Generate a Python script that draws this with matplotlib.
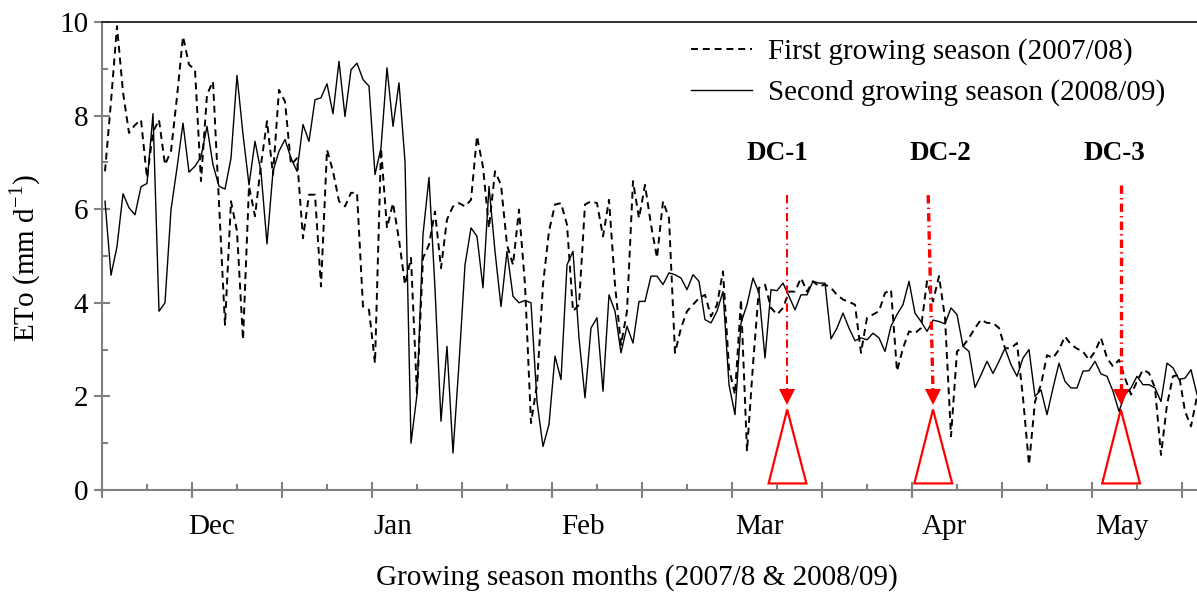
import numpy as np
import matplotlib
matplotlib.use("Agg")
import matplotlib.pyplot as plt
from matplotlib.patches import Polygon

# --- Data (daily ETo, mm/d) ---
eto_first = [
    6.81, 8.3, 9.91, 8.5, 7.63, 7.8, 7.91, 6.67, 7.65, 7.91, 6.95, 7.24, 8.4, 9.69, 9.09, 8.98,
    6.6, 8.45, 8.73, 6.13, 3.53, 6.17, 5.53, 3.21, 6.49, 5.85, 6.95, 7.88, 6.74, 8.55, 8.3,
    6.95, 7.09, 5.38, 6.31, 6.31, 4.35, 7.27, 6.81, 6.17, 6.06, 6.35, 6.35, 3.92, 3.85, 2.71,
    7.3, 5.6, 6.13, 5.35, 4.39, 4.96, 2.04, 4.96, 5.24, 5.95, 4.74, 5.78, 6.06, 6.13, 6.06,
    6.2, 7.56, 6.9, 5.6, 6.81, 6.52, 5.24, 4.81, 5.99, 4.39, 1.43, 2.25, 4.39, 5.53, 6.1,
    6.13, 5.67, 3.82, 3.96, 6.1, 6.17, 6.13, 5.42, 6.2, 4.39, 3.1, 3.82, 6.6, 5.81, 6.52,
    5.67, 4.96, 6.17, 5.81, 2.93, 3.46, 3.82, 3.96, 4.1, 4.17, 3.71, 3.96, 4.67, 2.6, 2.04,
    4.07, 0.83, 2.68, 4.32, 4.39, 3.89, 3.75, 3.89, 4.24, 4.24, 4.53, 4.24, 4.46, 4.35, 4.39,
    4.32, 4.17, 4.07, 4.02, 3.96, 2.93, 3.68, 3.75, 3.82, 4.21, 4.28, 2.54, 3.03, 3.39, 3.35,
    3.46, 4.46, 4.03, 4.57, 3.68, 1.15, 2.96, 3.07, 3.25, 3.46, 3.64, 3.57, 3.57, 3.46, 3.03,
    3.03, 3.14, 1.97, 0.54, 1.89, 2.25, 2.88, 2.82, 3.0, 3.28, 3.11, 3.02, 2.96, 2.78, 2.96,
    3.25, 2.82, 2.64, 2.78, 2.39, 2.04, 2.32, 2.57, 2.5, 2.18, 0.75, 1.82, 2.43, 2.46, 1.68,
    1.36, 2.0,
]
eto_second = [
    6.17, 4.59, 5.2, 6.33, 6.03, 5.88, 6.48, 6.55, 8.04, 3.82, 4.0, 5.99, 6.88, 7.84, 6.79,
    6.92, 7.12, 7.77, 6.95, 6.49, 6.43, 7.09, 8.86, 7.6, 6.52, 7.45, 6.8, 5.26, 6.81, 7.24, 7.49,
    7.09, 6.81, 7.81, 7.45, 8.34, 8.38, 8.68, 8.04, 9.16, 7.98, 8.98, 9.12, 8.77, 8.63, 6.74,
    7.31, 9.02, 7.77, 8.70, 7.02, 1.0, 2.04, 5.46, 6.68, 4.3, 1.47, 3.07, 0.79, 2.7, 4.81,
    5.6, 5.42, 4.32, 6.49, 5.1, 3.92, 5.1, 4.14, 4.0, 4.05, 4.0, 1.89, 0.93, 1.4, 2.86,
    2.36, 4.81, 5.1, 3.25, 1.97, 3.46, 3.68, 2.11, 4.17, 3.82, 2.93, 3.5, 3.14, 4.03, 4.03,
    4.57, 4.57, 4.39, 4.64, 4.6, 4.53, 4.28, 4.6, 4.46, 3.64, 3.57, 3.82, 4.24, 2.25, 1.61,
    3.57, 3.96, 4.53, 4.21, 2.82, 4.28, 4.26, 4.42, 4.14, 3.85, 4.17, 4.17, 4.46, 4.42, 4.42,
    3.23, 3.46, 3.78, 3.46, 3.19, 3.25, 3.21, 3.35, 3.25, 2.96, 3.5, 3.75, 3.96, 4.46, 3.78,
    3.6, 3.39, 3.63, 3.6, 3.55, 3.89, 3.75, 3.07, 2.96, 2.19, 2.46, 2.75, 2.49, 2.75, 3.03,
    2.68, 2.43, 2.82, 3.0, 2.0, 2.14, 1.61, 2.18, 2.71, 2.32, 2.18, 2.18, 2.54, 2.55, 2.75,
    2.48, 2.43, 2.11, 1.68, 2.04, 2.18, 2.43, 2.25, 2.25, 2.18, 1.89, 2.71, 2.61, 2.36, 2.39,
    2.57, 2.04,
]
month_labels = ["Dec", "Jan", "Feb", "Mar", "Apr", "May"]
month_pos = [17.8, 48.0, 79.6, 109.0, 139.8, 169.5]

dc_labels = ["DC-1", "DC-2", "DC-3"]
dc_day = [113.7, 138.0, 169.3]
dc_label_day = [112.0, 139.2, 168.3]

RED = "#ff0000"
GREY = "#808080"
FS = 21


def generate_graph(output_path):
    plt.rcParams["font.family"] = ["Liberation Serif", "DejaVu Serif"]
    plt.rcParams["lines.scale_dashes"] = False

    fig = plt.figure(figsize=(11.97, 5.92), dpi=100)
    ax = fig.add_axes([102 / 1197, 1 - 490 / 592, 1095 / 1197, 468 / 592])

    days = np.arange(len(eto_first))

    # --- 1. The two seasons ---
    ax.plot(days, eto_first, color="black", lw=1.4, dashes=(5, 3.5),
            label="First growing season (2007/08)")
    ax.plot(days, eto_second, color="black", lw=1.0,
            label="Second growing season (2008/09)")

    # --- 2. DC markers: dash-dot arrow + open triangle ---
    line_top = [6.30, 6.30, 6.52]
    lean = [0.0, -0.8, 0.0]   # DC-2 arrow is drawn slightly slanted
    lw_dc = [1.5, 2.4, 2.4]
    for lab, d, dl, top, dx, lw in zip(dc_labels, dc_day, dc_label_day,
                                       line_top, lean, lw_dc):
        ax.plot([d + dx, d], [top, 2.12], color=RED, lw=lw,
                linestyle=(0, (6, 3, 1, 3)))
        ax.plot([d], [1.99], marker="v", color=RED, markersize=11, markeredgewidth=0)
        tri = Polygon([[d - 3.1, 0.14], [d + 3.2, 0.14], [d, 1.72]], closed=True,
                      fill=False, edgecolor=RED, lw=1.6)
        ax.add_patch(tri)
        ax.text(dl, 7.2, lab, ha="center", va="center", fontsize=19.5,
                fontweight="bold")

    # --- 3. Axes styling ---
    ax.set_xlim(-0.5, 182.0)
    ax.set_ylim(0, 10)
    ax.set_yticks(np.arange(0, 11, 2))
    ax.set_yticks(np.arange(1, 10, 2), minor=True)
    ax.set_xticks(np.arange(-0.5, 182, 15))
    ax.set_xticks(np.arange(7, 182, 15), minor=True)
    ax.set_xticklabels([])

    for side in ("left", "bottom"):
        ax.spines[side].set_color(GREY)
        ax.spines[side].set_linewidth(1.5)
    ax.spines["right"].set_visible(False)
    ax.spines["top"].set_color("#222222")
    ax.spines["top"].set_linewidth(1.3)

    ax.tick_params(which="major", direction="inout", length=12, width=1.5,
                   color=GREY, labelsize=FS, pad=4)
    ax.tick_params(which="minor", direction="in", length=4.5, width=1.5, color=GREY)

    for name, pos in zip(month_labels, month_pos):
        ax.text(pos, -0.079, name, transform=ax.get_xaxis_transform(),
                ha="center", va="center", fontsize=FS)

    fig.text(637 / 1197, 1 - 578 / 592, "Growing season months (2007/8 & 2008/09)",
             ha="center", va="center", fontsize=FS)
    fig.text(25 / 1197, 1 - 258 / 592, r"ETo (mm d$^{\mathregular{-1}}$)",
             ha="center", va="center", rotation=90, fontsize=FS)

    ax.legend(loc="upper left", bbox_to_anchor=(0.538, 0.965), frameon=False,
              fontsize=FS, handlelength=2.1, handletextpad=0.55, labelspacing=0.48,
              borderaxespad=0, borderpad=0)

    fig.savefig(output_path, dpi=100)


if __name__ == "__main__":
    generate_graph("out.png")
